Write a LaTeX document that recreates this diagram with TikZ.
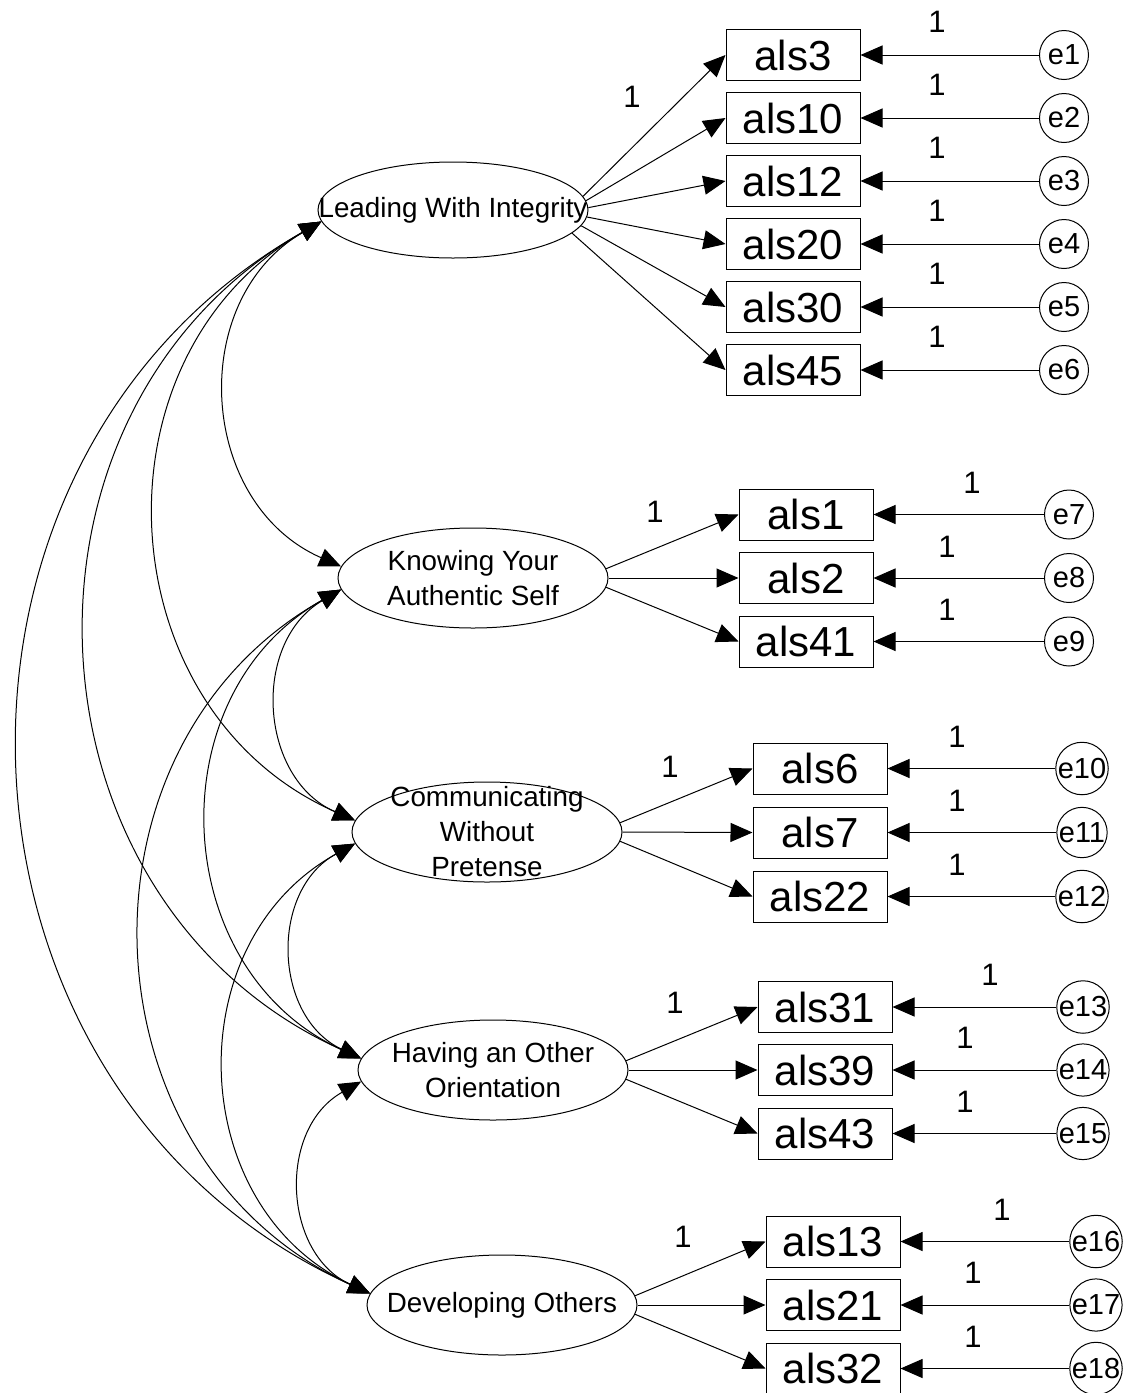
\documentclass[tikz,border=0pt]{standalone}
\usepackage{fontspec}
\setmainfont{Liberation Sans}
\usetikzlibrary{arrows.meta,shapes.geometric}

\newcommand{\factorfont}{\fontsize{13.9}{17.5}\selectfont}

\tikzset{
  tip/.style={-{Triangle[length=11pt,width=9.5pt]}},
  factor/.style={ellipse,draw,minimum width=135pt,minimum height=50pt,inner sep=0pt},
  lab/.style={font=\factorfont,align=center,inner sep=0pt},
  item/.style={rectangle,draw,minimum width=67pt,minimum height=25.5pt,inner sep=0pt,
    font=\fontsize{21}{25}\selectfont},
  err/.style={circle,draw,minimum size=24.5pt,inner sep=0pt,font=\fontsize{14.5}{16}\selectfont},
  one/.style={font=\fontsize{15.5}{17}\selectfont,inner sep=0pt},
  cov/.style={{Triangle[length=11pt,width=9.5pt]}-{Triangle[length=11pt,width=9.5pt]},
    bend right=63,looseness=1.16}
}

\begin{document}
\begin{tikzpicture}[x=0.5pt,y=-0.5pt,line width=0.5pt]
  \useasboundingbox (0,0) rectangle (1140,1393);

  % latent factors
  \node[factor,minimum height=48pt,label={[lab]center:Leading With Integrity}] (lwi) at (453,210) {};
  \node[factor,label={[lab]center:Knowing Your\\Authentic Self}] (kys) at (473,578) {};
  \node[factor,label={[lab]center:Communicating\\Without\\Pretense}] (cwp) at (487,832) {};
  \node[factor,label={[lab]center:Having an Other\\Orientation}] (hoo) at (493,1070) {};
  \node[factor,label={[lab]center:Developing Others}] (dev) at (502,1305) {};

  % Leading With Integrity
  \foreach \v/\e/\y/\a in {3/1/55/6, 10/2/118/4, 12/3/181/1, 20/4/244/357, 30/5/307/353, 45/6/370/349}{
    \node[item] (als\v) at (793,\y) {als\v};
    \node[err] (e\e) at (1064,\y) {e\e};
    \node[one] (one\e) at (937,\y-33) {1};
    \draw[tip] (lwi.\a) -- (als\v.west);
    \draw[tip] (e\e) -- (als\v.east);
  }
  \node[one] (load1) at (632,97) {1};

  % Knowing Your Authentic Self
  \foreach \v/\e/\y/\a/\x in {1/7/514.5/4/972, 2/8/578/0/947, 41/9/641.5/356/947}{
    \node[item] (als\v) at (806,\y) {als\v};
    \node[err] (e\e) at (1069,\y) {e\e};
    \node[one] (one\e) at (\x,\y-31.5) {1};
    \draw[tip] (kys.\a) -- (als\v.west);
    \draw[tip] (e\e) -- (als\v.east);
  }
  \node[one] (load2) at (655,512) {1};

  % Communicating Without Pretense
  \foreach \v/\e/\y/\a in {6/10/768.5/4, 7/11/832.5/0, 22/12/896.5/356}{
    \node[item] (als\v) at (820,\y) {als\v};
    \node[err] (e\e) at (1082,\y) {e\e};
    \node[one] (one\e) at (957,\y-31.5) {1};
    \draw[tip] (cwp.\a) -- (als\v.west);
    \draw[tip] (e\e) -- (als\v.east);
  }
  \node[one] (load3) at (670,767) {1};

  % Having an Other Orientation
  \foreach \v/\e/\y/\a/\x in {31/13/1007/4/990, 39/14/1070/0/965, 43/15/1133.5/356/965}{
    \node[item] (als\v) at (825,\y) {als\v};
    \node[err] (e\e) at (1083,\y) {e\e};
    \node[one] (one\e) at (\x,\y-32) {1};
    \draw[tip] (hoo.\a) -- (als\v.west);
    \draw[tip] (e\e) -- (als\v.east);
  }
  \node[one] (load4) at (675,1003) {1};

  % Developing Others
  \foreach \v/\e/\y/\a/\x in {13/16/1241.5/4/1002, 21/17/1305/0/973, 32/18/1368.5/356/973}{
    \node[item] (als\v) at (833,\y) {als\v};
    \node[err] (e\e) at (1096,\y) {e\e};
    \node[one] (one\e) at (\x,\y-32) {1};
    \draw[tip] (dev.\a) -- (als\v.west);
    \draw[tip] (e\e) -- (als\v.east);
  }
  \node[one] (load5) at (683,1237) {1};

  % covariances
  \foreach \p/\q in {lwi/kys, lwi/cwp, lwi/hoo, lwi/dev, kys/cwp, kys/hoo, kys/dev, cwp/hoo, cwp/dev, hoo/dev}{
    \draw[cov] (\p.185) to (\q.175);
  }
\end{tikzpicture}
\end{document}
